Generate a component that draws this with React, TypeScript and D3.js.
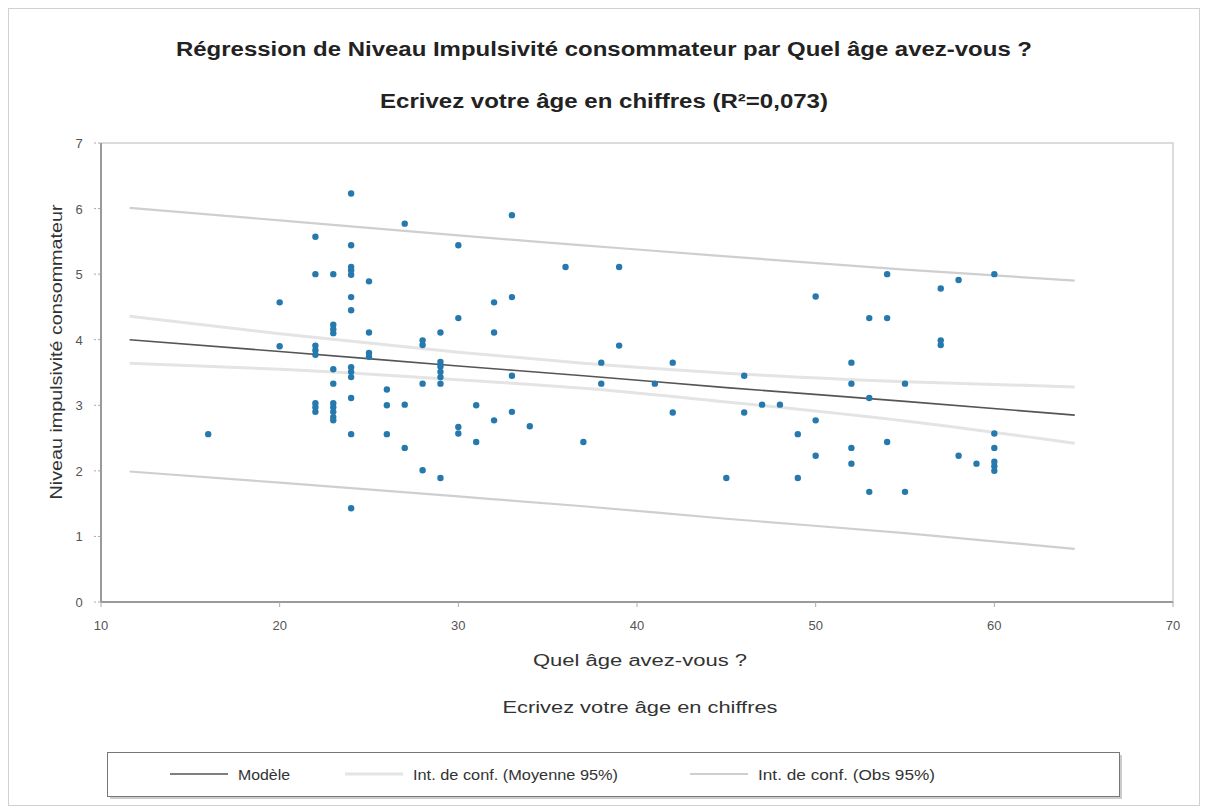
import React from 'react';
import * as d3 from 'd3';

// Quel âge avez-vous ? (x) / Niveau impulsivité consommateur (y)
const ages = [
  16,
  20, 20,
  22, 22, 22, 22, 22, 22, 22, 22,
  23, 23, 23, 23, 23, 23, 23, 23, 23, 23, 23,
  24, 24, 24, 24, 24, 24, 24, 24, 24, 24, 24, 24, 24,
  25, 25, 25, 25,
  26, 26, 26,
  27, 27, 27,
  28, 28, 28, 28,
  29, 29, 29, 29, 29, 29, 29,
  30, 30, 30, 30,
  31, 31,
  32, 32, 32,
  33, 33, 33, 33,
  34, 36, 37,
  38, 38,
  39, 39,
  41,
  42, 42,
  45,
  46, 46,
  47, 48,
  49, 49,
  50, 50, 50,
  52, 52, 52, 52,
  53, 53, 53,
  54, 54, 54,
  55, 55,
  57, 57, 57,
  58, 58,
  59,
  60, 60, 60, 60, 60, 60,
];
const scores = [
  2.56,
  4.57, 3.9,
  5.57, 5.0, 3.91, 3.84, 3.77, 3.03, 2.97, 2.9,
  5.0, 4.23, 4.16, 4.1, 3.55, 3.33, 3.03, 2.97, 2.9, 2.82, 2.77,
  6.23, 5.44, 5.11, 5.06, 4.99, 4.65, 4.45, 3.58, 3.51, 3.43, 3.11, 2.56, 1.43,
  4.89, 4.11, 3.8, 3.74,
  3.24, 3.0, 2.56,
  5.77, 3.01, 2.35,
  3.99, 3.92, 3.33, 2.01,
  4.11, 3.66, 3.59, 3.51, 3.43, 3.33, 1.89,
  5.44, 4.33, 2.67, 2.57,
  3.0, 2.44,
  4.57, 4.11, 2.77,
  5.9, 4.65, 3.45, 2.9,
  2.68, 5.11, 2.44,
  3.65, 3.33,
  5.11, 3.91,
  3.33,
  3.65, 2.89,
  1.89,
  3.45, 2.89,
  3.01, 3.01,
  2.56, 1.89,
  4.66, 2.77, 2.23,
  3.65, 3.33, 2.35, 2.11,
  4.33, 3.11, 1.68,
  5.0, 4.33, 2.44,
  3.33, 1.68,
  4.78, 3.99, 3.92,
  4.91, 2.23,
  2.11,
  5.0, 2.57, 2.35, 2.14, 2.07, 2.0,
];

// model and confidence bands, read at these ages
const bandAges = [11.6, 20, 30, 37, 45, 55, 64.5];
const modelValues = [4.0, 3.82, 3.6, 3.45, 3.27, 3.06, 2.85];
const meanUpper = [4.36, 4.09, 3.81, 3.64, 3.49, 3.36, 3.28];
const meanLower = [3.64, 3.55, 3.39, 3.26, 3.05, 2.76, 2.42];
const obsUpper = [6.01, 5.82, 5.59, 5.44, 5.27, 5.07, 4.9];
const obsLower = [1.99, 1.82, 1.61, 1.46, 1.27, 1.05, 0.81];

const xTicks = [10, 20, 30, 40, 50, 60, 70];
const yTicks = [0, 1, 2, 3, 4, 5, 6, 7];

const titleLines = [
  'Régression de Niveau Impulsivité consommateur par Quel âge avez-vous ?',
  'Ecrivez votre âge en chiffres (R²=0,073)',
];
const xLabelLines = ['Quel âge avez-vous  ?', 'Ecrivez votre âge en chiffres'];
const yLabel = 'Niveau impulsivité consommateur';
const legendItems = ['Modèle', 'Int. de conf. (Moyenne 95%)', 'Int. de conf. (Obs 95%)'];

const W = 1208;
const H = 809;
const FONT = '"Liberation Sans", Arial, sans-serif';

export default function App() {
  const x = d3.scaleLinear().domain([10, 70]).range([101, 1173]);
  const y = d3.scaleLinear().domain([0, 7]).range([602, 143]);

  const line = d3
    .line<number>()
    .x((_, i) => x(bandAges[i]))
    .y((d) => y(d))
    .curve(d3.curveMonotoneX);

  // text widths measured on the reference
  const titleWidths = [856, 448];
  const xLabelWidths = [214, 275];
  const legendWidths = [52, 205, 177];
  const legendStyles = [
    { stroke: '#555', width: 1.6 },
    { stroke: '#e4e4e4', width: 3 },
    { stroke: '#cfcfcf', width: 2.2 },
  ];
  const legendX = [170, 345, 690];

  return (
    <svg
      width={W}
      height={H}
      style={{ position: 'absolute', left: 0, top: 0, background: '#fff' }}
      fontFamily={FONT}
    >
      <rect x={8.5} y={8.5} width={W - 17} height={H - 12} fill="#fff" stroke="#d0d0d0" />

      {titleLines.map((t, i) => (
        <text
          key={t}
          x={604}
          y={56 + i * 52}
          textAnchor="middle"
          fontSize={20}
          fontWeight="bold"
          fill="#222"
          textLength={titleWidths[i]}
          lengthAdjust="spacingAndGlyphs"
        >
          {t}
        </text>
      ))}

      {/* plot frame */}
      <rect x={x(10)} y={y(7)} width={x(70) - x(10)} height={y(0) - y(7)} fill="none" stroke="#d0d0d0" strokeWidth={1.5} />
      <line x1={x(10)} x2={x(10)} y1={y(7)} y2={y(0)} stroke="#9a9a9a" strokeWidth={2} />
      <line x1={x(10)} x2={x(70)} y1={y(0)} y2={y(0)} stroke="#9a9a9a" strokeWidth={2} />

      {yTicks.map((t) => (
        <g key={t}>
          <line x1={x(10) - 7} x2={x(10)} y1={y(t)} y2={y(t)} stroke="#aaa" strokeDasharray="2,2" />
          <text x={79} y={y(t) + 5} textAnchor="middle" fontSize={13} fill="#555">
            {t}
          </text>
        </g>
      ))}
      {xTicks.map((t) => (
        <g key={t}>
          <line x1={x(t)} x2={x(t)} y1={y(0)} y2={y(0) + 5} stroke="#aaa" />
          <text x={x(t)} y={y(0) + 28} textAnchor="middle" fontSize={13} fill="#555">
            {t}
          </text>
        </g>
      ))}

      {/* bands and model */}
      <path d={line(meanUpper) || ''} fill="none" stroke="#e4e4e4" strokeWidth={3} />
      <path d={line(meanLower) || ''} fill="none" stroke="#e4e4e4" strokeWidth={3} />
      <path d={line(obsUpper) || ''} fill="none" stroke="#cfcfcf" strokeWidth={2.2} />
      <path d={line(obsLower) || ''} fill="none" stroke="#cfcfcf" strokeWidth={2.2} />
      <path d={line(modelValues) || ''} fill="none" stroke="#555" strokeWidth={1.6} />

      {ages.map((a, i) => (
        <circle key={i} cx={x(a)} cy={y(scores[i])} r={3.2} fill="#2679ad" />
      ))}

      <text
        transform={`translate(62,352) rotate(-90)`}
        textAnchor="middle"
        fontSize={16}
        fill="#333"
        textLength={295}
        lengthAdjust="spacingAndGlyphs"
      >
        {yLabel}
      </text>
      {xLabelLines.map((t, i) => (
        <text
          key={t}
          x={640}
          y={666 + i * 47}
          textAnchor="middle"
          fontSize={16}
          fill="#333"
          textLength={xLabelWidths[i]}
          lengthAdjust="spacingAndGlyphs"
        >
          {t}
        </text>
      ))}

      {/* legend */}
      <rect x={110} y={755} width={1012} height={44} fill="#ccc" />
      <rect x={107.5} y={752.5} width={1012} height={44} fill="#fff" stroke="#777" />
      {legendItems.map((t, i) => (
        <g key={t}>
          <line
            x1={legendX[i]}
            x2={legendX[i] + 58}
            y1={774}
            y2={774}
            stroke={legendStyles[i].stroke}
            strokeWidth={legendStyles[i].width}
          />
          <text
            x={legendX[i] + 68}
            y={780}
            fontSize={15}
            fill="#333"
            textLength={legendWidths[i]}
            lengthAdjust="spacingAndGlyphs"
          >
            {t}
          </text>
        </g>
      ))}
    </svg>
  );
}
